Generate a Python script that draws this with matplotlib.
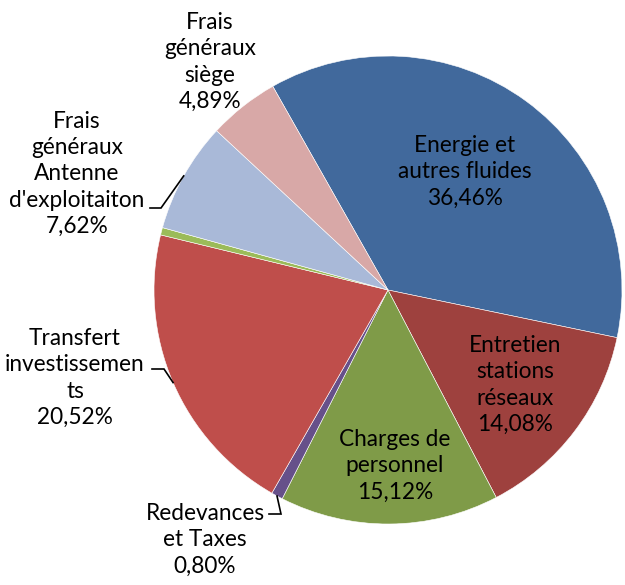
import numpy as np
import matplotlib.pyplot as plt

# parts of the budget, clockwise from the top left
labels = ["Energie et\nautres fluides", "Entretien\nstations\nréseaux", "Charges de\npersonnel",
          "Redevances\net Taxes", "Transfert\ninvestissemen\nts", "",
          "Frais\ngénéraux\nAntenne\nd'exploitaiton", "Frais\ngénéraux\nsiège"]
shares = [36.46, 14.08, 15.12, 0.80, 20.52, 0.51, 7.62, 4.89]
colors = ["#41699C", "#9E413E", "#7F9B48", "#66508A", "#BF4E4B", "#9BBB59", "#A9B9D8", "#D8A8A7"]

W, H = 625, 585
fig = plt.figure(figsize=(W / 100, H / 100), dpi=100)
ax = fig.add_axes([0, 0, 1, 1])

cx, cy, r = 388, H - 290, 234
start = 119.5
wedges, _ = ax.pie(shares, colors=colors, startangle=start, counterclock=False,
                   center=(cx, cy), radius=r, frame=True,
                   wedgeprops=dict(edgecolor="white", linewidth=0.4))
ax.set_xlim(0, W)
ax.set_ylim(0, H)
ax.set_aspect("equal")
ax.axis("off")

plt.rcParams["font.family"] = ["Lato", "DejaVu Sans"]
fs = 16.3

def pct(v):
    return f"{v:.2f}%".replace(".", ",")

# label centres in pixel coords (from top)
pos = {0: (465, 172), 1: (515, 385), 2: (395, 466), 3: (205, 540),
       4: (75, 378), 6: (77, 174), 7: (210, 62)}
# elbow of leader lines: (elbow point, end of horizontal)
leaders = {3: ((281, 514), (269, 514)), 4: ((164, 369), (152, 369)),
           6: ((161, 208), (150, 208))}

for i, w in enumerate(wedges):
    if i not in pos:
        continue
    x, y = pos[i]
    ax.text(x, H - y, labels[i] + "\n" + pct(shares[i]), ha="center", va="center",
            fontsize=fs, linespacing=1.31, color="black")
    if i in leaders:
        mid = np.deg2rad((w.theta1 + w.theta2) / 2)
        ex, ey = cx + r * np.cos(mid), cy + r * np.sin(mid)
        (bx, by), (hx, hy) = leaders[i]
        ax.plot([ex, bx, hx], [ey, H - by, H - hy], color="black", lw=1.2,
                solid_joinstyle="miter")

fig.savefig("out.png", dpi=100)
